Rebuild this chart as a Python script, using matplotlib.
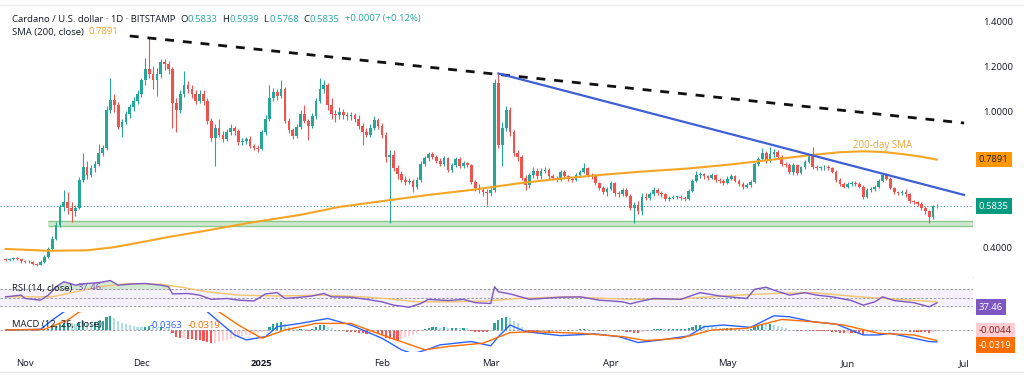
import numpy as np
import pandas as pd
import matplotlib
matplotlib.use("Agg")
import matplotlib.pyplot as plt
import matplotlib.dates as mdates
import matplotlib.transforms as mtrans

plt.rcParams["font.family"] = ["Open Sans", "DejaVu Sans"]

# ---- data (ADA/USD daily, Bitstamp), first candle 2024-10-27 ----
start = pd.Timestamp("2024-10-27")
first_open = 0.348

closes = [
    0.345, 0.350, 0.352, 0.348, 0.340, 0.338, 0.335,
    0.328, 0.325, 0.338, 0.360, 0.395, 0.440, 0.500,
    0.580, 0.600, 0.575, 0.560, 0.575, 0.700, 0.755,
    0.720, 0.750, 0.770, 0.820, 0.840, 1.010, 1.055,
    1.030, 0.935, 0.955, 0.990, 1.020, 1.050, 1.080,
    1.140, 1.190, 1.170, 1.140, 1.170, 1.220, 1.210,
    1.190, 1.040, 1.010, 1.080, 1.120, 1.100, 1.080,
    1.050, 1.080, 1.050, 0.960, 0.885, 0.930, 0.900,
    0.880, 0.910, 0.930, 0.915, 0.865, 0.870, 0.880,
    0.850, 0.840, 0.835, 0.910, 0.970, 1.060, 1.090,
    1.070, 1.100, 0.960, 0.920, 0.895, 0.935, 0.990,
    0.960, 0.940, 0.980, 1.050, 1.100, 1.120, 1.030,
    0.990, 0.985, 1.000, 0.985, 0.980, 0.985, 0.970,
    0.940, 0.910, 0.900, 0.930, 0.965, 0.940, 0.900,
    0.800, 0.810, 0.750, 0.725, 0.700, 0.690, 0.695,
    0.670, 0.700, 0.770, 0.795, 0.815, 0.800, 0.785,
    0.770, 0.795, 0.745, 0.765, 0.790, 0.760, 0.775,
    0.765, 0.690, 0.665, 0.655, 0.645, 0.640, 0.655,
    1.130, 0.855, 0.930, 1.010, 0.910, 0.820, 0.800,
    0.710, 0.675, 0.720, 0.740, 0.715, 0.740, 0.745,
    0.715, 0.710, 0.700, 0.735, 0.715, 0.705, 0.700,
    0.720, 0.735, 0.750, 0.720, 0.715, 0.685, 0.665,
    0.645, 0.660, 0.685, 0.640, 0.635, 0.655, 0.630,
    0.575, 0.590, 0.560, 0.625, 0.620, 0.635, 0.655,
    0.640, 0.635, 0.615, 0.620, 0.625, 0.626, 0.620,
    0.615, 0.650, 0.695, 0.720, 0.725, 0.715, 0.710,
    0.720, 0.700, 0.695, 0.685, 0.705, 0.715, 0.695,
    0.680, 0.670, 0.675, 0.690, 0.770, 0.790, 0.820,
    0.785, 0.815, 0.825, 0.800, 0.770, 0.765, 0.735,
    0.765, 0.730, 0.755, 0.780, 0.805, 0.755, 0.750,
    0.755, 0.756, 0.750, 0.735, 0.700, 0.680, 0.670,
    0.680, 0.685, 0.680, 0.670, 0.625, 0.655, 0.660,
    0.670, 0.695, 0.720, 0.705, 0.665, 0.645, 0.640,
    0.645, 0.635, 0.605, 0.600, 0.595, 0.575, 0.560,
    0.535, 0.5833, 0.5835,
]

highs = [
    0.352, 0.356, 0.360, 0.357, 0.351, 0.346, 0.343,
    0.339, 0.333, 0.344, 0.368, 0.402, 0.452, 0.512,
    0.595, 0.655, 0.648, 0.600, 0.590, 0.712, 0.820,
    0.785, 0.765, 0.785, 0.860, 0.852, 1.025, 1.150,
    1.080, 1.045, 0.970, 1.005, 1.035, 1.065, 1.095,
    1.150, 1.240, 1.330, 1.205, 1.195, 1.235, 1.232,
    1.225, 1.200, 1.060, 1.095, 1.180, 1.135, 1.120,
    1.095, 1.095, 1.095, 1.060, 0.975, 0.945, 0.970,
    0.915, 0.925, 0.945, 0.940, 0.925, 0.885, 0.890,
    0.895, 0.860, 0.852, 0.920, 0.985, 1.120, 1.105,
    1.100, 1.140, 1.110, 0.975, 0.930, 0.945, 1.010,
    1.030, 0.970, 0.995, 1.060, 1.150, 1.140, 1.130,
    1.060, 1.010, 1.020, 1.015, 1.000, 0.998, 0.995,
    0.985, 0.950, 0.930, 0.945, 0.980, 0.975, 0.950,
    0.910, 0.830, 0.830, 0.765, 0.740, 0.715, 0.710,
    0.705, 0.712, 0.785, 0.805, 0.825, 0.825, 0.810,
    0.795, 0.805, 0.800, 0.775, 0.800, 0.800, 0.785,
    0.780, 0.770, 0.700, 0.680, 0.668, 0.660, 0.670,
    1.145, 1.170, 0.955, 1.025, 1.020, 0.920, 0.830,
    0.810, 0.720, 0.730, 0.755, 0.750, 0.750, 0.755,
    0.752, 0.725, 0.718, 0.745, 0.742, 0.722, 0.712,
    0.728, 0.745, 0.773, 0.758, 0.730, 0.720, 0.692,
    0.672, 0.668, 0.695, 0.690, 0.652, 0.665, 0.662,
    0.635, 0.600, 0.605, 0.640, 0.640, 0.645, 0.668,
    0.662, 0.652, 0.642, 0.628, 0.632, 0.632, 0.633,
    0.628, 0.658, 0.705, 0.740, 0.735, 0.730, 0.722,
    0.730, 0.725, 0.710, 0.702, 0.715, 0.725, 0.720,
    0.702, 0.688, 0.685, 0.698, 0.778, 0.800, 0.840,
    0.828, 0.845, 0.835, 0.832, 0.808, 0.780, 0.772,
    0.772, 0.770, 0.762, 0.788, 0.815, 0.845, 0.765,
    0.762, 0.765, 0.765, 0.758, 0.742, 0.708, 0.690,
    0.692, 0.695, 0.693, 0.688, 0.675, 0.662, 0.668,
    0.678, 0.702, 0.728, 0.730, 0.712, 0.670, 0.652,
    0.655, 0.660, 0.640, 0.612, 0.608, 0.602, 0.582,
    0.565, 0.590, 0.5939,
]

lows = [
    0.340, 0.341, 0.345, 0.343, 0.334, 0.331, 0.330,
    0.322, 0.318, 0.321, 0.334, 0.352, 0.388, 0.432,
    0.492, 0.560, 0.548, 0.515, 0.540, 0.570, 0.690,
    0.705, 0.712, 0.735, 0.760, 0.805, 0.830, 0.995,
    1.000, 0.925, 0.890, 0.945, 0.975, 1.005, 1.035,
    1.065, 1.120, 1.150, 1.100, 1.070, 1.150, 1.185,
    1.170, 0.930, 0.910, 0.995, 1.065, 1.085, 1.060,
    1.035, 1.040, 1.030, 0.945, 0.870, 0.760, 0.890,
    0.865, 0.870, 0.900, 0.900, 0.855, 0.855, 0.860,
    0.840, 0.830, 0.825, 0.830, 0.900, 0.960, 1.050,
    1.055, 1.060, 0.950, 0.905, 0.880, 0.885, 0.925,
    0.950, 0.875, 0.930, 0.970, 1.040, 1.085, 1.010,
    0.970, 0.955, 0.970, 0.970, 0.965, 0.965, 0.955,
    0.925, 0.855, 0.890, 0.890, 0.920, 0.925, 0.885,
    0.780, 0.510, 0.740, 0.705, 0.690, 0.675, 0.680,
    0.645, 0.660, 0.690, 0.760, 0.785, 0.790, 0.775,
    0.760, 0.760, 0.735, 0.735, 0.755, 0.750, 0.750,
    0.755, 0.680, 0.650, 0.640, 0.630, 0.590, 0.630,
    0.645, 0.840, 0.760, 0.915, 0.895, 0.805, 0.785,
    0.700, 0.655, 0.665, 0.710, 0.705, 0.705, 0.730,
    0.705, 0.700, 0.690, 0.695, 0.705, 0.695, 0.692,
    0.695, 0.712, 0.728, 0.712, 0.705, 0.675, 0.655,
    0.635, 0.630, 0.655, 0.630, 0.625, 0.628, 0.622,
    0.565, 0.510, 0.550, 0.545, 0.610, 0.612, 0.628,
    0.632, 0.625, 0.608, 0.608, 0.614, 0.616, 0.612,
    0.605, 0.610, 0.645, 0.688, 0.710, 0.705, 0.700,
    0.702, 0.692, 0.685, 0.675, 0.680, 0.698, 0.688,
    0.672, 0.660, 0.662, 0.668, 0.685, 0.762, 0.782,
    0.775, 0.778, 0.800, 0.792, 0.762, 0.755, 0.725,
    0.722, 0.720, 0.725, 0.748, 0.772, 0.748, 0.742,
    0.742, 0.745, 0.742, 0.728, 0.692, 0.672, 0.662,
    0.665, 0.672, 0.672, 0.662, 0.615, 0.618, 0.648,
    0.652, 0.665, 0.690, 0.698, 0.658, 0.638, 0.632,
    0.632, 0.625, 0.598, 0.592, 0.586, 0.568, 0.550,
    0.510, 0.528, 0.5768,
]

# 200-day SMA (days since 2024-10-27)
sma_day = [0, 11, 21, 28, 35, 42, 50, 63, 76, 86, 99, 109, 120, 133, 143,
           153, 163, 176, 187, 197, 208, 215, 221, 226, 231, 236, 240]
sma_val = [0.394, 0.386, 0.388, 0.402, 0.424, 0.447, 0.470, 0.510, 0.545,
           0.580, 0.610, 0.633, 0.655, 0.686, 0.705, 0.721, 0.735, 0.750,
           0.768, 0.788, 0.810, 0.822, 0.826, 0.823, 0.814, 0.802, 0.7891]

# RSI(14) and its moving average
rsi_day = [0, 4, 5, 9, 11, 13, 15, 18, 21, 24, 27, 29, 33, 36, 40, 42, 43,
           47, 50, 53, 57, 60, 64, 67, 70, 72, 76, 79, 82, 84, 89, 93, 97,
           100, 104, 107, 109, 114, 118, 121, 125, 126, 127, 130, 135, 143,
           148, 153, 159, 161, 163, 167, 174, 179, 184, 191, 193, 196, 198,
           202, 206, 209, 213, 218, 221, 224, 226, 229, 234, 238, 240]
rsi_val = [52, 56, 48, 44, 56, 76, 88, 80, 84, 86, 91, 80, 83, 84, 80, 76,
           59, 60, 56, 46, 48, 44, 42, 59, 62, 48, 51, 54, 60, 52, 51, 46,
           40, 32, 27, 36, 46, 43, 46, 38, 36, 76, 64, 59, 46, 51, 52, 44,
           40, 35, 40, 48, 46, 62, 54, 48, 70, 75, 68, 56, 62, 56, 52, 43,
           32, 40, 52, 43, 38, 28, 37.46]
rsi_ma_day = [0, 12, 18, 24, 32, 40, 46, 52, 60, 70, 82, 92, 100, 106, 115,
              124, 132, 145, 160, 172, 185, 198, 208, 220, 230, 240]
rsi_ma_val = [52, 52, 64, 76, 84, 82, 74, 64, 56, 54, 56, 52, 46, 40, 40,
              42, 48, 52, 46, 46, 54, 60, 62, 52, 46, 40]

# MACD(12, 26) and signal line
macd_day = [0, 9, 12, 15, 18, 26, 30, 38, 43, 48, 52, 55, 59, 62, 67, 70,
            76, 83, 89, 93, 97, 102, 105, 109, 112, 120, 125, 127, 130, 134,
            143, 152, 158, 163, 169, 176, 180, 185, 192, 198, 202, 208, 214,
            221, 225, 228, 234, 238, 240]
macd_val = [0.0, 0.002, 0.03, 0.055, 0.07, 0.09, 0.11, 0.12, 0.10, 0.08,
            0.055, 0.025, -0.015, -0.03, -0.02, 0.01, 0.02, 0.035, 0.015,
            -0.005, -0.025, -0.06, -0.072, -0.058, -0.045, -0.035, -0.048,
            -0.02, 0.015, -0.005, -0.017, -0.012, -0.02, -0.038, -0.03,
            -0.018, 0.01, 0.015, 0.008, 0.043, 0.04, 0.025, 0.018, -0.015,
            -0.015, -0.01, -0.025, -0.035, -0.0363]
signal_day = [0, 10, 16, 19, 26, 32, 40, 46, 52, 55, 60, 66, 72, 80, 89, 97,
              108, 114, 123, 130, 136, 148, 159, 165, 174, 182, 191, 200,
              208, 216, 225, 234, 240]
signal_val = [0.0, 0.002, 0.03, 0.055, 0.07, 0.09, 0.10, 0.095, 0.075,
              0.055, 0.015, -0.025, 0.0, 0.02, 0.02, -0.015, -0.06, -0.05,
              -0.04, -0.008, -0.005, -0.01, -0.02, -0.032, -0.025, 0.0,
              0.005, 0.032, 0.025, 0.015, -0.01, -0.015, -0.0319]

hist = [
    0.001, 0.001, 0.002, 0.001, 0.000, -0.001, -0.001,
    -0.002, -0.002, -0.001, 0.001, 0.004, 0.008, 0.012,
    0.018, 0.022, 0.022, 0.020, 0.018, 0.022, 0.026,
    0.024, 0.023, 0.023, 0.026, 0.027, 0.038, 0.042,
    0.036, 0.028, 0.022, 0.018, 0.015, 0.012, 0.009,
    0.008, 0.010, 0.011, 0.009, 0.007, 0.008, 0.007,
    0.005, -0.010, -0.020, -0.025, -0.024, -0.026, -0.028,
    -0.030, -0.030, -0.032, -0.036, -0.040, -0.038, -0.036,
    -0.034, -0.030, -0.027, -0.024, -0.022, -0.019, -0.016,
    -0.014, -0.012, -0.010, -0.006, -0.002, 0.010, 0.018,
    0.022, 0.025, 0.018, 0.010, 0.005, 0.003, 0.004,
    0.002, -0.002, 0.004, 0.010, 0.014, 0.015, 0.010,
    0.005, 0.001, -0.001, -0.004, -0.005, -0.005, -0.006,
    -0.008, -0.010, -0.012, -0.011, -0.010, -0.012, -0.016,
    -0.024, -0.028, -0.030, -0.030, -0.026, -0.022, -0.018,
    -0.014, -0.010, -0.004, 0.002, 0.006, 0.008, 0.008,
    0.007, 0.008, 0.006, 0.006, 0.007, 0.006, 0.006,
    0.005, -0.002, -0.005, -0.006, -0.006, -0.006, -0.004,
    0.022, 0.030, 0.035, 0.040, 0.036, 0.028, 0.020,
    0.008, -0.002, -0.006, -0.008, -0.010, -0.009, -0.008,
    -0.009, -0.008, -0.005, -0.003, -0.002, -0.002, -0.001,
    0.001, 0.002, 0.003, 0.002, 0.001, -0.001, -0.003,
    -0.003, -0.002, -0.001, -0.002, -0.003, -0.004, -0.005,
    -0.007, -0.008, -0.008, -0.005, -0.002, 0.001, 0.003,
    0.003, 0.003, 0.002, 0.003, 0.003, 0.003, 0.003,
    0.003, 0.006, 0.010, 0.014, 0.016, 0.015, 0.013,
    0.011, 0.009, 0.007, 0.005, 0.005, 0.005, 0.004,
    0.002, 0.001, 0.001, 0.002, 0.010, 0.014, 0.018,
    0.017, 0.018, 0.016, 0.012, 0.008, 0.005, 0.001,
    -0.001, -0.003, -0.003, -0.002, -0.001, -0.002, -0.003,
    -0.003, -0.004, -0.004, -0.005, -0.007, -0.009, -0.010,
    -0.009, -0.009, -0.010, -0.010, -0.012, -0.010, -0.008,
    -0.006, -0.003, -0.001, 0.001, 0.000, -0.002, -0.003,
    -0.003, -0.004, -0.005, -0.006, -0.006, -0.006, -0.007,
    -0.008, -0.006, -0.0044,
]

# drawn levels
falling_resistance = [("2024-11-28", 1.336), ("2025-07-01", 0.951)]
blue_trendline = [("2025-03-03", 1.170), ("2025-07-01", 0.633)]
support_zone = ("2024-11-07", 0.496, 0.518)
sma_note = ("2025-06-10", 0.850, "200-day SMA")

# 0.8000 and 0.6000 sit under the value badges in the reference
price_ticks = [1.4, 1.2, 1.0, 0.4]
month_ticks = ["2024-11-01", "2024-12-01", "2025-01-01", "2025-02-01",
               "2025-03-01", "2025-04-01", "2025-05-01", "2025-06-01",
               "2025-07-01"]
month_labels = ["Nov", "Dec", "2025", "Feb", "Mar", "Apr", "May", "Jun", "Jul"]

last_close = 0.5835
last_sma = 0.7891
last_rsi = 37.46
last_hist = -0.0044
last_macd = -0.0363
last_signal = -0.0319

# ---- colours ----
UP = "#26a69a"
DOWN = "#ef5350"
TXT = "#131722"
GRID = "#e0e3eb"

assert len(closes) == len(highs) == len(lows) == len(hist)

dates = pd.date_range(start, periods=len(closes), freq="D")
x = mdates.date2num(dates)
opens = [first_open] + closes[:-1]


def dnum(days):
    return mdates.date2num(start + pd.to_timedelta(np.asarray(days), unit="D"))


W, H = 1024, 381
fig = plt.figure(figsize=(W / 100, H / 100), dpi=100)


def box(top, bottom, right=973):
    return [0, 1 - bottom / H, right / W, (bottom - top) / H]


ax = fig.add_axes(box(5, 277))
ax_rsi = fig.add_axes(box(277, 312), sharex=ax)
ax_macd = fig.add_axes(box(312, 352), sharex=ax)

xmin = x[0] - 1.45
xmax = x[0] + 249.3

# ---- price pane ----
for xi, o, h, l, c in zip(x, opens, highs, lows, closes):
    col = UP if c >= o else DOWN
    ax.vlines(xi, l, h, color=col, lw=0.8, zorder=3)
    ax.bar(xi, max(abs(c - o), 0.002), bottom=min(o, c), width=0.7,
           color=col, zorder=3, linewidth=0)

ax.plot(dnum(sma_day), sma_val, color="#f5a524", lw=1.5, zorder=4)
ax.text(pd.Timestamp(sma_note[0]), sma_note[1], sma_note[2], color="#f0a53a",
        fontsize=7, ha="center", va="center")

(d0, p0), (d1, p1) = falling_resistance
ax.plot([pd.Timestamp(d0), pd.Timestamp(d1)], [p0, p1], color="#111111",
        lw=2.0, dashes=(3.2, 3.2), zorder=5)
(d0, p0), (d1, p1) = blue_trendline
ax.plot([pd.Timestamp(d0), pd.Timestamp(d1)], [p0, p1], color="#3f5fd6",
        lw=1.6, zorder=5)

zs, zlo, zhi = support_zone
zx0 = mdates.date2num(pd.Timestamp(zs))
ax.fill_between([zx0, xmax], zlo, zhi, facecolor="#cfe9cf", edgecolor="none",
                zorder=2)
ax.hlines([zlo, zhi], zx0, xmax, color="#8cc98c", lw=1.0, zorder=2)

ax.axhline(last_close, color="#4a9c94", lw=0.8, ls=(0, (1, 2)), zorder=1)

ax.set_xlim(xmin, xmax)
ax.set_ylim(0.270, 1.473)
ax.yaxis.tick_right()
ax.set_yticks(price_ticks)
ax.set_yticklabels([f"{v:.4f}" for v in price_ticks])
ax.tick_params(axis="y", length=0, pad=7, labelsize=6.8, labelcolor=TXT)
ax.tick_params(axis="x", length=0, labelbottom=False)
for s in ax.spines.values():
    s.set_visible(False)
ax.spines["bottom"].set_visible(True)
ax.spines["bottom"].set_color(GRID)

price_tr = mtrans.blended_transform_factory(ax.transAxes, ax.transData)
ax.text(1.0 + 6 / 973, last_sma, f"{last_sma:.4f}", transform=price_tr,
        fontsize=6.8, color="#1e1e1e", va="center", ha="left", zorder=10,
        bbox=dict(boxstyle="square,pad=0.35", fc="#ff9800", ec="none"))
ax.text(1.0 + 6 / 973, last_close, f"{last_close:.4f}", transform=price_tr,
        fontsize=6.8, color="white", va="center", ha="left", zorder=10,
        bbox=dict(boxstyle="square,pad=0.35", fc="#089981", ec="none"))

# ---- RSI pane ----
ax_rsi.axhspan(30, 70, color="#7e57c2", alpha=0.08, lw=0)
for lvl in (70, 50, 30):
    ax_rsi.axhline(lvl, color="#8a8d96", lw=0.6, dashes=(3, 2))
rx = dnum(rsi_day)
rv = np.array(rsi_val, dtype=float)
ax_rsi.fill_between(rx, rv, 70, where=rv > 70, interpolate=True,
                    color="#9ccc9c", alpha=0.45, lw=0)
ax_rsi.plot(dnum(rsi_ma_day), rsi_ma_val, color="#f2c46d", lw=1.0)
ax_rsi.plot(rx, rv, color="#7e57c2", lw=1.0)
ax_rsi.set_ylim(15.6, 99.5)
ax_rsi.set_yticks([])
ax_rsi.tick_params(axis="x", length=0, labelbottom=False)
for s in ax_rsi.spines.values():
    s.set_visible(False)
ax_rsi.spines["bottom"].set_visible(True)
ax_rsi.spines["bottom"].set_color(GRID)
rsi_tr = mtrans.blended_transform_factory(ax_rsi.transAxes, ax_rsi.transData)
ax_rsi.text(1.0 + 6 / 973, 27.5, f"{last_rsi:.2f}", transform=rsi_tr,
            fontsize=6.8, color="white", va="center", ha="left", zorder=10,
            bbox=dict(boxstyle="square,pad=0.35", fc="#7e57c2", ec="none"))

# ---- MACD pane ----
hcols = []
for i, v in enumerate(hist):
    prev = hist[i - 1] if i else v
    if v >= 0:
        hcols.append("#26a69a" if v >= prev else "#b2dfdb")
    else:
        hcols.append("#ff5252" if v <= prev else "#ffcdd2")
ax_macd.bar(x, hist, width=0.55, color=hcols, lw=0)
ax_macd.axhline(0, color="#9598a1", lw=0.6, dashes=(3, 2))
ax_macd.plot(dnum(macd_day), macd_val, color="#2962ff", lw=1.0)
ax_macd.plot(dnum(signal_day), signal_val, color="#ff6d00", lw=1.0)
ax_macd.set_ylim(-0.0667, 0.0545)
ax_macd.set_yticks([])
for s in ax_macd.spines.values():
    s.set_visible(False)
ax_macd.set_xticks(mdates.date2num(pd.to_datetime(month_ticks)))
ax_macd.set_xticklabels(month_labels)
ax_macd.tick_params(axis="x", length=0, pad=5, labelsize=6.8,
                    labelcolor=TXT)
for lab in ax_macd.get_xticklabels():
    if lab.get_text() == "2025":
        lab.set_fontweight("bold")
macd_tr = mtrans.blended_transform_factory(ax_macd.transAxes,
                                           ax_macd.transData)
ax_macd.text(1.0 + 6 / 973, -0.001, f"{last_hist:.4f}", transform=macd_tr,
             fontsize=6.8, color="#8b1a1a", va="center", ha="left", zorder=10,
             bbox=dict(boxstyle="square,pad=0.35", fc="#ffcdd2", ec="none"))
ax_macd.text(1.0 + 6 / 973, -0.046, f"{last_signal:.4f}", transform=macd_tr,
             fontsize=6.8, color="white", va="center", ha="left", zorder=10,
             bbox=dict(boxstyle="square,pad=0.35", fc="#ff6d00", ec="none"))


# ---- legends ----
def chain(x0, y0, parts, size=6.8):
    t = fig.text(x0 / W, 1 - y0 / H, parts[0][0], color=parts[0][1],
                 fontsize=size, va="center", ha="left")
    for s, c in parts[1:]:
        t = fig.text(0, 0, s, color=c, fontsize=size, va="bottom", ha="left")
        prev = fig.texts[-2]
        t.set_position((1, 0))
        t.set_transform(mtrans.offset_copy(
            mtrans.BboxTransformTo(prev.get_window_extent(
                fig.canvas.get_renderer())), fig=fig, x=0, y=0, units="dots"))
    return t


fig.canvas.draw()
chain(12, 19, [("Cardano / U.S. dollar · 1D · BITSTAMP  ", TXT),
               ("O", TXT), ("0.5833", UP), ("  H", TXT), ("0.5939", UP),
               ("  L", TXT), ("0.5768", UP), ("  C", TXT), ("0.5835", UP),
               ("  +0.0007 (+0.12%)", UP)])
chain(12, 32, [("SMA (200, close)  ", TXT), (f"{last_sma:.4f}", "#f5a524")])
chain(12, 288, [("RSI (14, close)  ", TXT), (f"{last_rsi:.2f}", "#7e57c2")])
chain(12, 325, [("MACD (12, 26, close)", TXT)])
fig.text(150 / W, 1 - 325 / H, f"{last_macd:.4f}", color="#2962ff",
         fontsize=6.8, va="center", ha="left")
fig.text(188 / W, 1 - 325 / H, f"{last_signal:.4f}", color="#ff6d00",
         fontsize=6.8, va="center", ha="left")

fig.add_artist(plt.Line2D([0, 1], [1 - 372 / H] * 2, color="#e6e6e6", lw=1))
fig.add_artist(plt.Line2D([0, 1], [1 - 5 / H] * 2, color="#eeeeee", lw=1))

fig.savefig("out.png", dpi=100)
